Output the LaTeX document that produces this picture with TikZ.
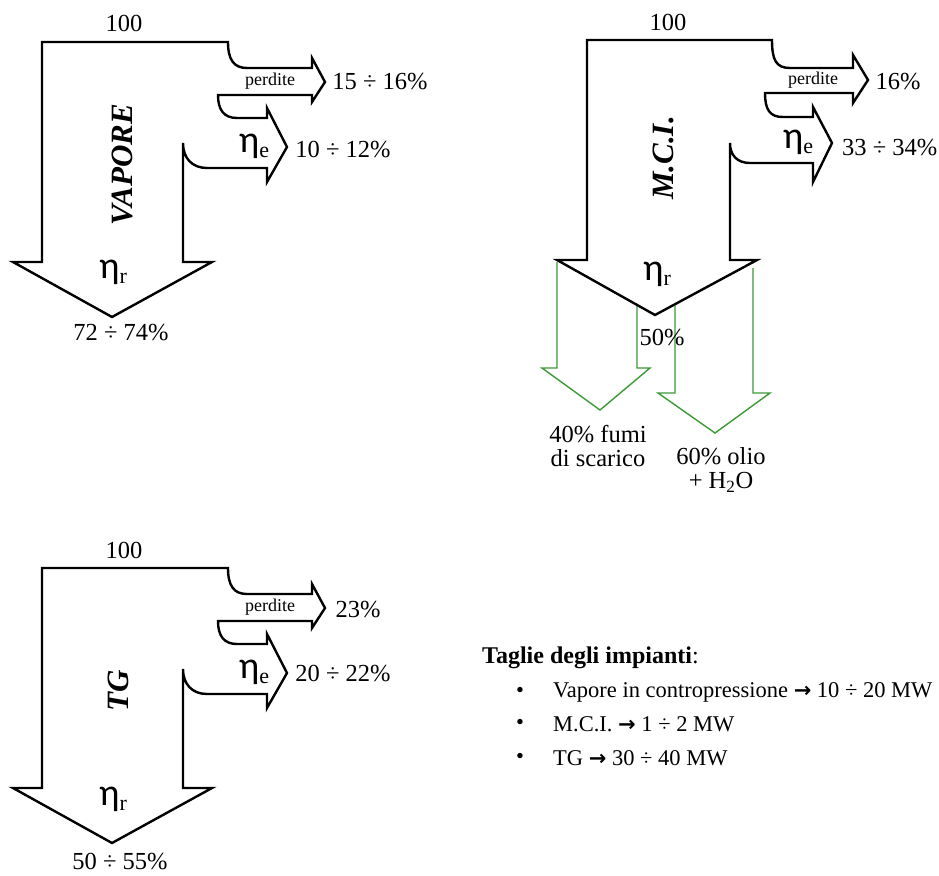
\documentclass[tikz,border=0pt]{standalone}
\usepackage{fontspec}
\setmainfont{Liberation Serif}
\newfontfamily\etafont{Carlito}
\newfontfamily\arrfont{DejaVu Sans}
\definecolor{flowgreen}{RGB}{60,155,55}
\newcommand\myeta[1]{{\etafont\fontsize{38}{38}\selectfont η}{\fontsize{22}{22}\selectfont\raisebox{-5pt}{#1}}}
\newcommand\myarr{{\arrfont\bfseries\fontsize{21}{21}\selectfont →}}
\begin{document}
\begin{tikzpicture}[x=1pt,y=-1pt,
  flow/.style={draw=black, line width=2.4pt, line join=miter, fill=none},
  gflow/.style={draw=flowgreen, line width=1.4pt},
  lbl/.style={font=\fontsize{24.5}{27}\selectfont, inner sep=0pt},
  small/.style={font=\fontsize{18}{20}\selectfont, inner sep=0pt},
  etalbl/.style={inner sep=0pt},
  rottxt/.style={font=\bfseries\itshape\fontsize{31}{33}\selectfont, rotate=90, inner sep=0pt},
  legtxt/.style={font=\fontsize{22.5}{26}\selectfont, inner sep=0pt, anchor=west}]
\useasboundingbox[fill=white] (0,0) rectangle (939,875);

% ---------- VAPORE ----------
\draw[flow] (42,42) -- (228,42) .. controls (228,60) and (234,68) .. (247,68)
  -- (312,68) -- (312,58) -- (325,82) -- (312,102) -- (312,95) -- (218,95)
  .. controls (218,110) and (224,118) .. (237,118) -- (267,118) -- (267,108)
  -- (287,147) -- (267,182) -- (267,168) -- (207,168)
  .. controls (192,168) and (183,158) .. (183,143) -- (183,262) -- (212,262)
  -- (112,317) -- (13,262) -- (42,262) -- cycle;
\node[lbl] (v100) at (124,23) {100};
\node[small] (vperd) at (270,81) {perdite};
\node[lbl] (vperdv) at (380,82) {15 ÷ 16\%};
\node[etalbl] (veta) at (254,146) {\myeta{e}};
\node[lbl] (vetav) at (343,150) {10 ÷ 12\%};
\node[rottxt] (vname) at (122,165) {VAPORE};
\node[etalbl] (vetar) at (113,272) {\myeta{r}};
\node[lbl] (vbot) at (121,333) {72 ÷ 74\%};

% ---------- M.C.I. ----------
\draw[gflow] (557,262) -- (557,368) -- (542,368) -- (600,410) -- (650,368) -- (637,368) -- (637,305);
\draw[gflow] (675,304) -- (675,393) -- (658,393) -- (715,433) -- (770,393) -- (753,393) -- (753,268);
\draw[flow] (587,40) -- (772,40) .. controls (772,60) and (776,68) .. (790,68)
  -- (853,68) -- (853,55) -- (868,80) -- (853,103) -- (853,93) -- (765,93)
  .. controls (765,110) and (770,117) .. (783,117) -- (813,117) -- (813,107)
  -- (832,143) -- (813,182) -- (813,163) -- (750,163)
  .. controls (737,163) and (730,155) .. (730,143) -- (730,260) -- (757,260)
  -- (655,315) -- (557,260) -- (587,260) -- cycle;
\node[lbl] (m100) at (668,22) {100};
\node[small] (mperd) at (813,80) {perdite};
\node[lbl] (mperdv) at (898,82) {16\%};
\node[etalbl] (meta) at (798,142) {\myeta{e}};
\node[lbl, anchor=west] (metav) at (842,148) {33 ÷ 34\%};
\node[rottxt] (mname) at (663,158) {M.C.I.};
\node[etalbl] (metar) at (657,274) {\myeta{r}};
\node[lbl] (m50) at (662,338) {50\%};
\node[lbl, align=center] (mfumi) at (598,446) {40\% fumi\\[-3pt]di scarico};
\node[lbl, align=center] (molio) at (721,470) {60\% olio\\[-3pt]+ H\textsubscript{2}O};

% ---------- TG ----------
\begin{scope}[shift={(0,526)}]
\draw[flow] (42,42) -- (228,42) .. controls (228,60) and (234,68) .. (247,68)
  -- (312,68) -- (312,58) -- (325,82) -- (312,102) -- (312,95) -- (218,95)
  .. controls (218,110) and (224,118) .. (237,118) -- (267,118) -- (267,108)
  -- (287,147) -- (267,182) -- (267,168) -- (207,168)
  .. controls (192,168) and (183,158) .. (183,143) -- (183,262) -- (212,262)
  -- (112,317) -- (13,262) -- (42,262) -- cycle;
\node[lbl] (t100) at (124,24) {100};
\node[small] (tperd) at (270,81) {perdite};
\node[lbl] (tperdv) at (358,84) {23\%};
\node[etalbl] (teta) at (254,146) {\myeta{e}};
\node[lbl] (tetav) at (343,148) {20 ÷ 22\%};
\node[rottxt] (tname) at (118,165) {TG};
\node[etalbl] (tetar) at (113,273) {\myeta{r}};
\node[lbl] (tbot) at (120,336) {50 ÷ 55\%};
\end{scope}

% ---------- legend ----------
\node[legtxt, font=\fontsize{24}{27}\selectfont] (leg) at (482,658) {\textbf{Taglie degli impianti}:};
\node[legtxt] (b1) at (516,692) {•};
\node[legtxt] (l1) at (553,692) {Vapore in contropressione \myarr{} 10 ÷ 20 MW};
\node[legtxt] (b2) at (516,724) {•};
\node[legtxt] (l2) at (553,724) {M.C.I. \myarr{} 1 ÷ 2 MW};
\node[legtxt] (b3) at (516,758) {•};
\node[legtxt] (l3) at (553,758) {TG \myarr{} 30 ÷ 40 MW};
\end{tikzpicture}
\end{document}
